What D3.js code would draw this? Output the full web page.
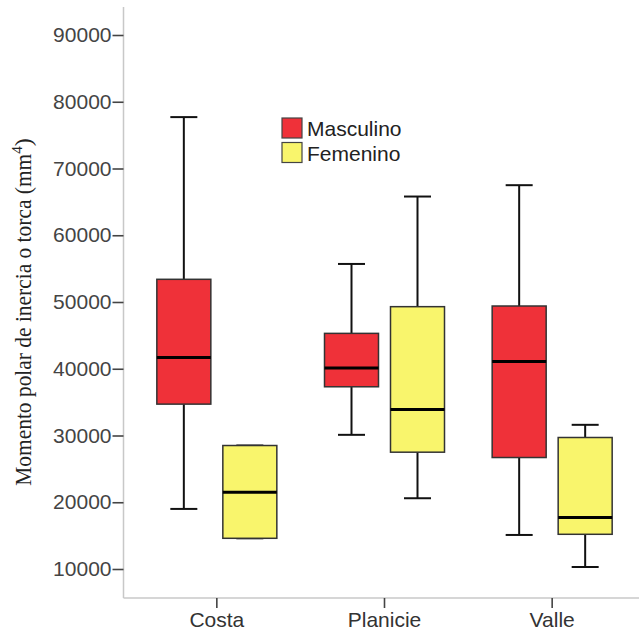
<!DOCTYPE html>
<html><head><meta charset="utf-8">
<script src="https://cdn.jsdelivr.net/npm/d3@7"></script>
<style>body{margin:0;background:#fff}svg{display:block}</style>
</head><body>
<svg id="c" width="639" height="637"></svg>
<script>
const categories = ["Costa", "Planicie", "Valle"];
const sexes = ["Masculino", "Femenino"];
const sexColors = ["#EF3139", "#F9F56C"];
const yTicks = [10000, 20000, 30000, 40000, 50000, 60000, 70000, 80000, 90000];
// [min, q1, median, q3, max]
const masculino = [
  [19000, 34700, 41700, 53400, 77700],
  [30100, 37300, 40100, 45300, 55700],
  [15100, 26700, 41100, 49400, 67500]
];
const femenino = [
  [14600, 14600, 21500, 28500, 28500],
  [20600, 27500, 33900, 49300, 65800],
  [10300, 15200, 17700, 29700, 31600]
];
const yLabel = "Momento polar de inercia o torca (mm";

const svg = d3.select("#c");
const y = d3.scaleLinear().domain([10000, 90000]).range([569, 35]);
const x = d3.scaleBand().domain(categories).range([133, 636]);
const xs = d3.scaleBand().domain(sexes).range([-60, 60]).paddingInner(12/66).paddingOuter(0);
const color = d3.scaleOrdinal().domain(sexes).range(sexColors);

const axisLeft = 123.5, axisBottom = 598, axisTop = 7;

// axis lines
svg.append("line").attr("x1", axisLeft).attr("x2", axisLeft).attr("y1", axisTop).attr("y2", axisBottom)
  .attr("stroke", "#c8c8c8").attr("stroke-width", 1.5);
svg.append("line").attr("x1", axisLeft).attr("x2", 639).attr("y1", axisBottom).attr("y2", axisBottom)
  .attr("stroke", "#c8c8c8").attr("stroke-width", 1.5);

// y axis
const ya = svg.append("g").attr("transform", `translate(${axisLeft},0)`)
  .call(d3.axisLeft(y).tickValues(yTicks).tickSize(11).tickPadding(1).tickFormat(d3.format("d")));
ya.select(".domain").remove();
ya.selectAll(".tick line").attr("stroke", "#444").attr("stroke-width", 1.6);
ya.selectAll(".tick text").attr("font-family", "Liberation Sans, Arial, sans-serif")
  .attr("font-size", 21).attr("fill", "#444");

// x axis
const xa = svg.append("g").attr("transform", `translate(0,${axisBottom})`)
  .call(d3.axisBottom(x).tickSize(10).tickPadding(4));
xa.select(".domain").remove();
xa.selectAll(".tick line").attr("stroke", "#444").attr("stroke-width", 1.6);
xa.selectAll(".tick text").attr("font-family", "Liberation Sans, Arial, sans-serif")
  .attr("font-size", 21).attr("fill", "#333");

// data rows
const rows = [];
categories.forEach((c, i) => {
  rows.push({cat: c, sex: sexes[0], s: masculino[i]});
  rows.push({cat: c, sex: sexes[1], s: femenino[i]});
});

const bw = xs.bandwidth();
const g = svg.append("g");
rows.forEach(r => {
  const x0 = x(r.cat) + x.bandwidth() / 2 + xs(r.sex);
  const cx = x0 + bw / 2;
  const [mn, q1, md, q3, mx] = r.s;
  const lw = 2;
  g.append("line").attr("x1", cx).attr("x2", cx).attr("y1", y(mx)).attr("y2", y(q3))
    .attr("stroke", "#111").attr("stroke-width", lw);
  g.append("line").attr("x1", cx).attr("x2", cx).attr("y1", y(q1)).attr("y2", y(mn))
    .attr("stroke", "#111").attr("stroke-width", lw);
  g.append("line").attr("x1", cx - bw / 4).attr("x2", cx + bw / 4).attr("y1", y(mx)).attr("y2", y(mx))
    .attr("stroke", "#111").attr("stroke-width", lw);
  g.append("line").attr("x1", cx - bw / 4).attr("x2", cx + bw / 4).attr("y1", y(mn)).attr("y2", y(mn))
    .attr("stroke", "#111").attr("stroke-width", lw);
  g.append("rect").attr("x", x0).attr("y", y(q3)).attr("width", bw).attr("height", y(q1) - y(q3))
    .attr("fill", color(r.sex)).attr("stroke", "#333").attr("stroke-width", 1.5);
  g.append("line").attr("x1", x0).attr("x2", x0 + bw).attr("y1", y(md)).attr("y2", y(md))
    .attr("stroke", "#000").attr("stroke-width", 3);
});

// legend
const lg = svg.append("g").attr("transform", "translate(282,118)");
sexes.forEach((s, i) => {
  lg.append("rect").attr("x", 0).attr("y", i * 24.5).attr("width", 20).attr("height", 20)
    .attr("fill", color(s)).attr("stroke", "#444").attr("stroke-width", 1.2);
  lg.append("text").attr("x", 25).attr("y", i * 24.5 + 18).text(s)
    .attr("font-family", "Liberation Sans, Arial, sans-serif").attr("font-size", 21).attr("fill", "#222");
});

// y label
const yl = svg.append("text").attr("transform", "translate(31,312) rotate(-90)")
  .attr("text-anchor", "middle").attr("font-family", "Liberation Serif, Times New Roman, serif")
  .attr("font-size", 24).attr("fill", "#222");
yl.append("tspan").attr("textLength", 332).attr("lengthAdjust", "spacingAndGlyphs").text(yLabel);
yl.append("tspan").attr("font-size", 15).attr("dy", -9).text("4");
yl.append("tspan").attr("dy", 9).text(")");
</script>
</body></html>
